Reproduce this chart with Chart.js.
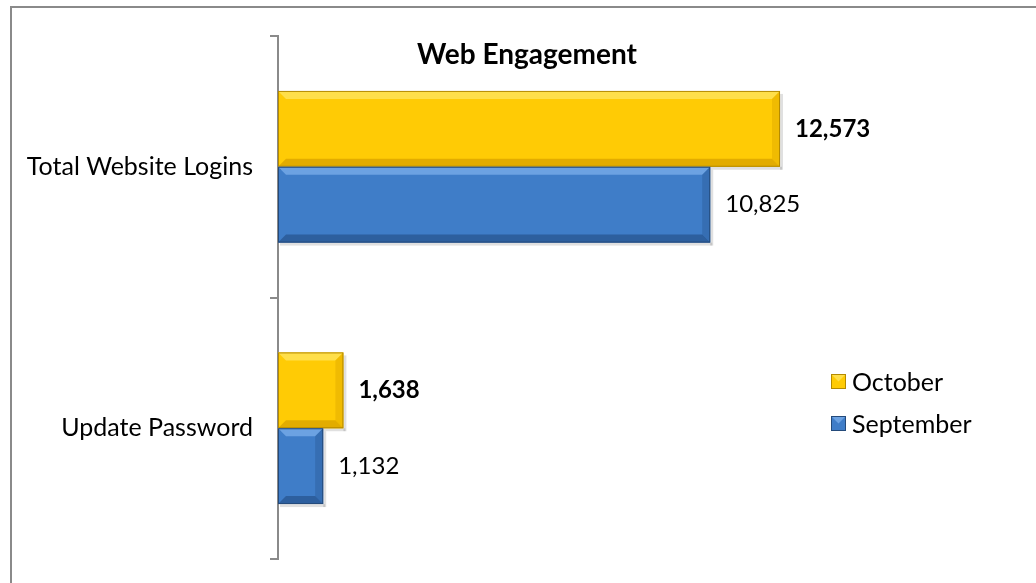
<!DOCTYPE html>
<html>
<head>
<meta charset="utf-8">
<script src="https://cdn.jsdelivr.net/npm/chart.js@4/dist/chart.umd.min.js"></script>
<style>
  html, body { margin: 0; padding: 0; background: #fff; }
  #wrap { position: relative; width: 1036px; height: 583px; overflow: hidden; }
  #frame { position: absolute; left: 10px; top: 6px; width: 1100px; height: 700px;
           border-left: 2px solid #8a8a8a; border-top: 2px solid #8a8a8a; }
  canvas { position: absolute; left: 0; top: 0; }
</style>
</head>
<body>
<div id="wrap">
  <div id="frame"></div>
  <canvas id="chart" width="1036" height="583"></canvas>
</div>
<script>
const title = "Web Engagement";
const categories = ["Total Website Logins", "Update Password"];
const october = [12573, 1638];
const september = [10825, 1132];
const seriesNames = ["October", "September"];

const FONT = "Lato, 'Noto Sans', sans-serif";

const palette = [
  { main: "#FFCB05", light: "#FFDF4A", dark: "#E2AC00", edge: "#B48A00" },
  { main: "#3F7DC8", light: "#6CA2E2", dark: "#2D5F9E", edge: "#244A7A" }
];

// bevel look for the bars, using the positions Chart.js computed
const bevel = {
  id: "bevel",
  afterDatasetsDraw(chart) {
    const ctx = chart.ctx;
    chart.data.datasets.forEach((ds, i) => {
      const c = palette[i];
      chart.getDatasetMeta(i).data.forEach(bar => {
        const x0 = bar.base, x1 = bar.x;
        const y0 = bar.y - bar.height / 2, y1 = bar.y + bar.height / 2;
        const b = Math.min(8, (x1 - x0) / 3, bar.height / 3);
        ctx.save();
        // soft shadow
        ctx.fillStyle = "rgba(0,0,0,0.12)";
        ctx.fillRect(x0 + 2, y1, x1 - x0, 3);
        ctx.fillRect(x1, y0 + 3, 3, y1 - y0);
        // top
        ctx.fillStyle = c.light;
        ctx.beginPath();
        ctx.moveTo(x0, y0); ctx.lineTo(x1, y0); ctx.lineTo(x1 - b, y0 + b); ctx.lineTo(x0 + b, y0 + b);
        ctx.closePath(); ctx.fill();
        // bottom
        ctx.fillStyle = c.dark;
        ctx.beginPath();
        ctx.moveTo(x0, y1); ctx.lineTo(x1, y1); ctx.lineTo(x1 - b, y1 - b); ctx.lineTo(x0 + b, y1 - b);
        ctx.closePath(); ctx.fill();
        // right
        ctx.globalAlpha = 0.5;
        ctx.beginPath();
        ctx.moveTo(x1, y0); ctx.lineTo(x1, y1); ctx.lineTo(x1 - b, y1 - b); ctx.lineTo(x1 - b, y0 + b);
        ctx.closePath(); ctx.fill();
        ctx.globalAlpha = 1;
        ctx.strokeStyle = c.edge;
        ctx.lineWidth = 1;
        ctx.strokeRect(x0 + 0.5, y0 + 0.5, x1 - x0 - 1, y1 - y0 - 1);
        ctx.restore();
      });
    });
  }
};

const labelsAndTitle = {
  id: "labelsAndTitle",
  afterDraw(chart) {
    const ctx = chart.ctx;
    ctx.save();
    ctx.textBaseline = "middle";
    ctx.fillStyle = "#000";
    chart.data.datasets.forEach((ds, i) => {
      ctx.font = (i === 0 ? "bold " : "") + "24px " + FONT;
      ctx.textAlign = "left";
      chart.getDatasetMeta(i).data.forEach((bar, j) => {
        ctx.fillText(ds.data[j].toLocaleString("en-US"), bar.x + 15, bar.y);
      });
    });
    // title
    ctx.font = "bold 28px " + FONT;
    ctx.textAlign = "center";
    ctx.fillText(title, 527, 55);
    // legend
    ctx.font = "25px " + FONT;
    ctx.textAlign = "left";
    seriesNames.forEach((name, i) => {
      const y = 382 + i * 42;
      const c = palette[i];
      ctx.fillStyle = c.main;
      ctx.fillRect(831, y - 8, 15, 15);
      ctx.fillStyle = c.light;
      ctx.beginPath();
      ctx.moveTo(831, y - 8); ctx.lineTo(846, y - 8); ctx.lineTo(838.5, y - 0.5); ctx.closePath(); ctx.fill();
      ctx.strokeStyle = c.edge;
      ctx.strokeRect(831.5, y - 7.5, 14, 14);
      ctx.fillStyle = "#000";
      ctx.fillText(name, 852, y + 1);
    });
    ctx.restore();
  }
};

new Chart(document.getElementById("chart"), {
  type: "bar",
  data: {
    labels: categories,
    datasets: [
      { label: seriesNames[0], data: october, backgroundColor: palette[0].main },
      { label: seriesNames[1], data: september, backgroundColor: palette[1].main }
    ]
  },
  options: {
    indexAxis: "y",
    responsive: false,
    animation: false,
    layout: { padding: { left: 10, right: 199, top: 36, bottom: 24 } },
    datasets: { bar: { categoryPercentage: 0.58, barPercentage: 1 } },
    scales: {
      x: { display: false, min: 0, max: 14000 },
      y: {
        afterFit(s) { s.width = 268; s.paddingTop = 0; s.paddingBottom = 0; },
        border: { color: "#8a8a8a", width: 2 },
        grid: { offset: true, drawOnChartArea: false, tickLength: 8, color: "#8a8a8a", lineWidth: 2 },
        ticks: { color: "#000", font: { family: FONT, size: 25 }, padding: 17 }
      }
    },
    plugins: { legend: { display: false }, tooltip: { enabled: false } }
  },
  plugins: [bevel, labelsAndTitle]
});
</script>
</body>
</html>
